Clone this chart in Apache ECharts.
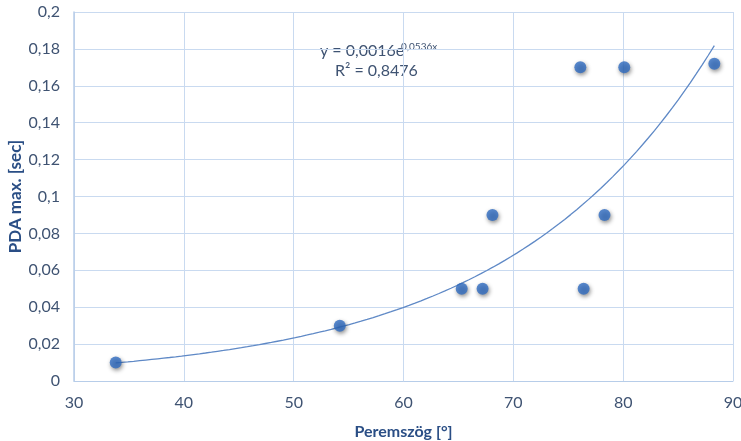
<!DOCTYPE html>
<html><head><meta charset="utf-8">
<script src="https://cdn.jsdelivr.net/npm/echarts@6/dist/echarts.min.js"></script>
<style>html,body{margin:0;padding:0;background:#fff}#c{width:741px;height:441px}</style>
</head><body><div id="c"></div>
<script>
const xValues = [33.8, 54.2, 65.3, 67.2, 68.1, 76.1, 76.4, 78.3, 80.1, 88.3];
const yValues = [0.01, 0.03, 0.05, 0.05, 0.09, 0.17, 0.05, 0.09, 0.17, 0.172];
const trendA = 0.0016, trendB = 0.0536; // displayed trendline equation
const xTicks = [30, 40, 50, 60, 70, 80, 90];
const yTicks = [0, 0.02, 0.04, 0.06, 0.08, 0.1, 0.12, 0.14, 0.16, 0.18, 0.2];

const pts = xValues.map((x, i) => [x, yValues[i]]);
const xMin = Math.min(...xValues), xMax = Math.max(...xValues);
const trend = [];
for (let i = 0; i <= 100; i++) {
  const x = xMin + (xMax - xMin) * i / 100;
  trend.push([x, trendA * Math.exp(trendB * x)]);
}
const fmt = v => String(+v.toFixed(2)).replace('.', ',');
const font = 'Lato, "Open Sans", sans-serif';
const lblColor = '#3f5372';
const titleColor = '#2a4e85';
const gridColor = '#c9daf0';

const chart = echarts.init(document.getElementById('c'), null, {renderer: 'canvas'});
chart.setOption({
  animation: false,
  grid: {left: 74, right: 8, top: 12, bottom: 60, containLabel: false, outerBoundsMode: 'none'},
  xAxis: {
    type: 'value', min: 30, max: 90, interval: 10,
    name: 'Peremszög [°]', nameLocation: 'middle', nameGap: 43,
    nameTextStyle: {color: titleColor, fontWeight: 'bold', fontSize: 16, fontFamily: font},
    axisLine: {show: true, lineStyle: {color: '#b7cde9', width: 1}},
    axisTick: {show: false},
    axisLabel: {color: lblColor, fontSize: 16, fontFamily: font, margin: 14, formatter: v => String(v)},
    splitLine: {show: true, lineStyle: {color: gridColor, width: 1}}
  },
  yAxis: {
    type: 'value', min: 0, max: 0.2, interval: 0.02,
    name: 'PDA max. [sec]', nameLocation: 'middle', nameGap: 50, nameMoveOverlap: false,
    nameTextStyle: {color: titleColor, fontWeight: 'bold', fontSize: 17, fontFamily: font},
    axisLine: {show: true, lineStyle: {color: '#b7cde9', width: 1.5}},
    axisTick: {show: false},
    axisLabel: {color: lblColor, fontSize: 16, fontFamily: font, margin: 14, formatter: fmt},
    splitLine: {show: true, lineStyle: {color: gridColor, width: 1}}
  },
  series: [
    {
      type: 'line', data: trend, showSymbol: false, symbol: 'none', smooth: false,
      lineStyle: {color: '#5f89c6', width: 1.3}, z: 2
    },
    {
      type: 'scatter', data: pts, symbol: 'circle', symbolSize: 12,
      itemStyle: {color: '#2f6cc0', shadowColor: 'rgba(0,0,0,0.55)', shadowBlur: 4, shadowOffsetX: 1, shadowOffsetY: 2},
      z: 3
    }
  ],
  graphic: [
    {
      type: 'text', left: 320, top: 43,
      style: {text: 'y = 0,0016e', fontSize: 16, fontFamily: font, fill: lblColor}
    },
    {
      type: 'text', left: 401, top: 42,
      style: {text: '0,0536x', fontSize: 10, fontFamily: font, fill: lblColor}
    },
    {
      type: 'text', left: 335, top: 63,
      style: {text: 'R² = 0,8476', fontSize: 16, fontFamily: font, fill: lblColor}
    }
  ]
});
</script></body></html>
